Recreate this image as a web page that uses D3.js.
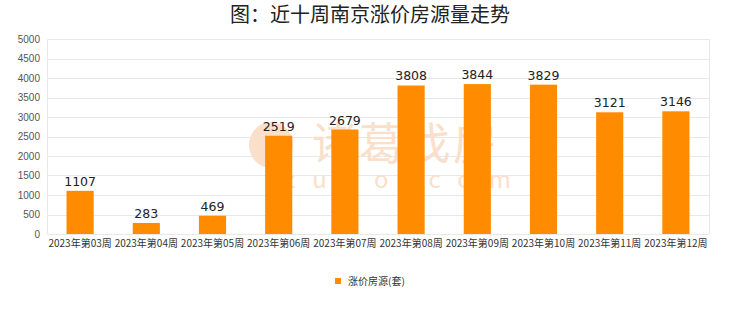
<!DOCTYPE html>
<html>
<head>
<meta charset="utf-8">
<script src="https://cdn.jsdelivr.net/npm/d3@7"></script>
<style>
body { margin: 0; background: #fff; }
</style>
</head>
<body>
<svg id="chart" width="740" height="312"></svg>
<script>
var weeks = ["2023年第03周", "2023年第04周", "2023年第05周", "2023年第06周", "2023年第07周",
	"2023年第08周", "2023年第09周", "2023年第10周", "2023年第11周", "2023年第12周"];
var counts = [1107, 283, 469, 2519, 2679, 3808, 3844, 3829, 3121, 3146];
var yTicks = [0, 500, 1000, 1500, 2000, 2500, 3000, 3500, 4000, 4500, 5000];

var svg = d3.select("#chart");
var plotL = 47, plotR = 709, plotT = 39, plotB = 234;
var font = "'Noto Sans CJK SC', 'Noto Sans', sans-serif";

var x = d3.scaleBand().domain(weeks).range([plotL, plotR]).paddingInner(0.59).paddingOuter(0.295);
var y = d3.scaleLinear().domain([0, 5000]).range([plotB, plotT]);

svg.append("text")
	.attr("x", 370).attr("y", 22)
	.attr("text-anchor", "middle")
	.attr("font-family", font)
	.attr("font-size", 20)
	.attr("fill", "#222")
	.text("图：近十周南京涨价房源量走势");

// grid
svg.append("g").selectAll("line").data(yTicks).join("line")
	.attr("x1", plotL).attr("x2", plotR)
	.attr("y1", function(d) { return Math.round(y(d)) + 0.5; })
	.attr("y2", function(d) { return Math.round(y(d)) + 0.5; })
	.attr("stroke", "#e8e8e8");

svg.append("line")
	.attr("x1", plotR + 0.5).attr("x2", plotR + 0.5)
	.attr("y1", plotT).attr("y2", plotB)
	.attr("stroke", "#e8e8e8");
svg.append("line")
	.attr("x1", plotL + 0.5).attr("x2", plotL + 0.5)
	.attr("y1", plotT).attr("y2", plotB)
	.attr("stroke", "#e8e8e8");

var yAxis = d3.axisLeft(y).tickValues(yTicks).tickFormat(d3.format("d")).tickSize(0).tickPadding(7);
svg.append("g")
	.attr("transform", "translate(" + plotL + ",0)")
	.call(yAxis)
	.call(function(g) { g.select(".domain").remove(); })
	.selectAll("text")
	.attr("font-family", "'Liberation Sans', Arial, sans-serif")
	.attr("font-size", 10)
	.attr("fill", "#555");

// watermark
var wm = svg.append("g").attr("fill", "#fae0ca");
wm.append("ellipse")
	.attr("cx", 271).attr("cy", 145).attr("rx", 22).attr("ry", 23);
wm.append("text")
	.attr("x", 406).attr("y", 160)
	.attr("text-anchor", "middle")
	.attr("font-family", font)
	.attr("font-size", 44)
	.attr("letter-spacing", 3)
	.text("诸葛找房");
wm.append("text")
	.attr("x", 406).attr("y", 188)
	.attr("text-anchor", "middle")
	.attr("font-family", font)
	.attr("font-size", 24)
	.attr("letter-spacing", 17)
	.text("zugo.com");

svg.append("g").selectAll("rect").data(counts).join("rect")
	.attr("x", function(d, i) { return x(weeks[i]); })
	.attr("y", function(d) { return y(d); })
	.attr("width", x.bandwidth())
	.attr("height", function(d) { return plotB - y(d); })
	.attr("fill", "#ff8b00");

svg.append("g").selectAll("text").data(counts).join("text")
	.attr("x", function(d, i) { return x(weeks[i]) + x.bandwidth() / 2; })
	.attr("y", function(d) { return y(d) - 5; })
	.attr("text-anchor", "middle")
	.attr("font-family", "'DejaVu Sans', sans-serif")
	.attr("font-size", 12.5)
	.attr("fill", "#222")
	.text(function(d) { return d; });

var xAxis = d3.axisBottom(x).tickSize(0).tickPadding(6);
svg.append("g")
	.attr("transform", "translate(0," + plotB + ")")
	.call(xAxis)
	.call(function(g) { g.select(".domain").remove(); })
	.selectAll("text")
	.attr("font-family", font)
	.attr("font-size", 10)
	.attr("fill", "#333");

// legend
svg.append("rect")
	.attr("x", 335).attr("y", 278).attr("width", 6).attr("height", 6)
	.attr("fill", "#ff8b00");
svg.append("text")
	.attr("x", 348).attr("y", 285)
	.attr("font-family", font)
	.attr("font-size", 10)
	.attr("fill", "#333")
	.text("涨价房源(套)");
</script>
</body>
</html>
